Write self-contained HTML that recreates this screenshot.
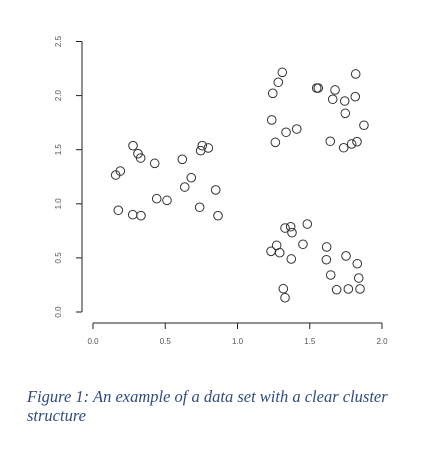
<!DOCTYPE html>
<html><head><meta charset="utf-8">
<style>
html,body{margin:0;padding:0;background:#fff;width:445px;height:470px;overflow:hidden}
svg{position:absolute;left:0;top:0}
.cap{position:absolute;left:27px;top:387px;width:372px;font-family:"Liberation Serif",serif;font-style:italic;font-size:16.5px;line-height:19px;color:#2f4b7e}
</style></head>
<body>
<svg id="chart" width="445" height="470" viewBox="0 0 445 470"></svg>
<div class="cap">Figure 1: An example of a data set with a clear cluster structure</div>
<script>
const xValues=[0.157,0.189,0.277,0.311,0.330,0.427,0.618,0.680,0.635,0.756,0.745,0.798,0.849,0.441,0.512,0.175,0.275,0.332,0.738,0.865,
1.310,1.282,1.244,1.548,1.559,1.675,1.659,1.742,1.815,1.818,1.746,1.237,1.336,1.410,1.262,1.642,1.735,1.790,1.827,1.875,
1.329,1.368,1.377,1.483,1.271,1.232,1.292,1.453,1.372,1.617,1.615,1.751,1.829,1.645,1.839,1.686,1.767,1.848,1.317,1.329];
const yValues=[1.266,1.303,1.537,1.463,1.423,1.374,1.411,1.241,1.155,1.537,1.491,1.516,1.128,1.047,1.032,0.940,0.899,0.890,0.968,0.890,
2.215,2.123,2.021,2.070,2.070,2.052,1.966,1.950,1.990,2.200,1.836,1.775,1.661,1.691,1.568,1.578,1.518,1.553,1.574,1.726,
0.776,0.788,0.733,0.813,0.616,0.561,0.548,0.626,0.490,0.601,0.483,0.518,0.446,0.342,0.314,0.206,0.213,0.213,0.215,0.132];
const xTicks=[0.0,0.5,1.0,1.5,2.0];
const yTicks=[0.0,0.5,1.0,1.5,2.0,2.5];
const xTickLabels=["0.0","0.5","1.0","1.5","2.0"];
const yTickLabels=["0.0","0.5","1.0","1.5","2.0","2.5"];

const NS="http://www.w3.org/2000/svg";
const svg=document.getElementById('chart');
function sx(v){return 93+v*144.5;}
function sy(v){return 312-v*108.2;}
function mk(tag,attrs,parent){const e=document.createElementNS(NS,tag);for(const k in attrs)e.setAttribute(k,attrs[k]);(parent||svg).appendChild(e);return e;}

const xa=mk('g',{});


mk('line',{x1:sx(0),x2:sx(2),y1:323,y2:323,stroke:'#222','stroke-width':1},xa);
xTicks.forEach((t,i)=>{
  mk('line',{x1:sx(t),x2:sx(t),y1:323,y2:329,stroke:'#222','stroke-width':1},xa);
  const tx=mk('text',{x:sx(t),y:344,'text-anchor':'middle','font-family':'Liberation Sans, sans-serif','font-size':8,fill:'#555'},xa);
  
  
  tx.textContent=xTickLabels[i];
});
const ya=mk('g',{});


mk('line',{x1:82,x2:82,y1:sy(0),y2:sy(2.5),stroke:'#222','stroke-width':1},ya);
yTicks.forEach((t,i)=>{
  mk('line',{x1:76,x2:82,y1:sy(t),y2:sy(t),stroke:'#222','stroke-width':1},ya);
  const tx=mk('text',{x:0,y:0,transform:`translate(61,${sy(t)}) rotate(-90)`,'text-anchor':'middle','font-family':'Liberation Sans, sans-serif','font-size':8,fill:'#555'},ya);
  
  
  tx.textContent=yTickLabels[i];
});
const pts=mk('g',{});


xValues.forEach((x,i)=>{
  const c=mk('circle',{cx:sx(x),cy:sy(yValues[i]),r:4.3,fill:'none',stroke:'#333','stroke-width':1},pts);
  
  
});
</script>
</body></html>
